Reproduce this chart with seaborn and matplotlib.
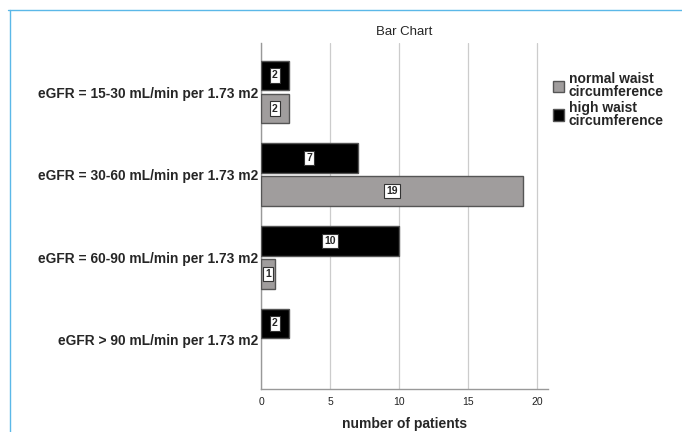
import matplotlib
matplotlib.use("Agg")
import matplotlib.pyplot as plt
import seaborn as sns
import pandas as pd
from matplotlib.lines import Line2D
from matplotlib.patches import Patch

categories = ["eGFR = 15-30 mL/min per 1.73 m2",
              "eGFR = 30-60 mL/min per 1.73 m2",
              "eGFR = 60-90 mL/min per 1.73 m2",
              "eGFR > 90 mL/min per 1.73 m2"]
high_waist = [2, 7, 10, 2]
normal_waist = [2, 19, 1, None]
series_names = ["high waist circumference", "normal waist circumference"]
legend_names = ["normal waist\ncircumference", "high waist\ncircumference"]

rows = []
for c, h, n in zip(categories, high_waist, normal_waist):
    rows.append({"group": c, "waist": series_names[0], "count": h})
    if n is not None:
        rows.append({"group": c, "waist": series_names[1], "count": n})
df = pd.DataFrame(rows)

sns.set_style("white")
plt.rcParams["font.family"] = ["Liberation Sans", "DejaVu Sans"]

fig = plt.figure(figsize=(6.82, 4.32), dpi=100)
ax = fig.add_axes([0.3827, 0.0995, 0.4208, 0.801])

colors = {series_names[0]: "#000000", series_names[1]: "#a09d9d"}
sns.barplot(data=df, y="group", x="count", hue="waist", hue_order=series_names,
            order=categories, palette=colors, orient="h", width=0.8, gap=0.1,
            edgecolor="#555555", linewidth=1.0, ax=ax, legend=False, zorder=3)

for cont in ax.containers:
    ax.bar_label(cont, label_type="center", fontsize=7.5, fontweight="bold",
                 fmt="%d",
                 bbox=dict(boxstyle="square,pad=0.2", facecolor="white",
                           edgecolor="#333333", linewidth=0.8))

ax.set_xlim(0, 20.8)
ax.set_ylim(3.593, -0.593)
ax.set_xticks([0, 5, 10, 15, 20])
ax.xaxis.grid(True, color="#cccccc", linewidth=0.9, zorder=0)
ax.set_axisbelow(True)
for s in ["top", "right"]:
    ax.spines[s].set_visible(False)
for s in ["left", "bottom"]:
    ax.spines[s].set_color("#999999")
    ax.spines[s].set_linewidth(1.0)
ax.tick_params(axis="x", labelsize=7.5, length=0, pad=6, colors="#222222")
ax.tick_params(axis="y", labelsize=9.9, length=0, pad=2)
for t in ax.get_yticklabels():
    t.set_fontweight("bold")
ax.set_ylabel("")
ax.set_xlabel("number of patients", fontsize=10, fontweight="bold", labelpad=7)
ax.set_title("Bar Chart", fontsize=9.5, pad=6)

handles = [Patch(facecolor="#a09d9d", edgecolor="#555555"),
           Patch(facecolor="#000000", edgecolor="#555555")]
leg = fig.legend(handles, legend_names, loc="upper left", bbox_to_anchor=(0.80, 0.85),
                 frameon=False, prop={"weight": "bold", "size": 10},
                 handlelength=0.85, handleheight=0.85, handletextpad=0.3,
                 labelspacing=0.1, borderpad=0)
for t in leg.get_texts():
    t.set_linespacing(0.95)

fig.add_artist(Line2D([8/682, 1], [1-10/432, 1-10/432], color="#5bb8e8", linewidth=1.0))
fig.add_artist(Line2D([10/682, 10/682], [0, 1-10/432], color="#5bb8e8", linewidth=1.0))

fig.savefig("out.png", dpi=100)
